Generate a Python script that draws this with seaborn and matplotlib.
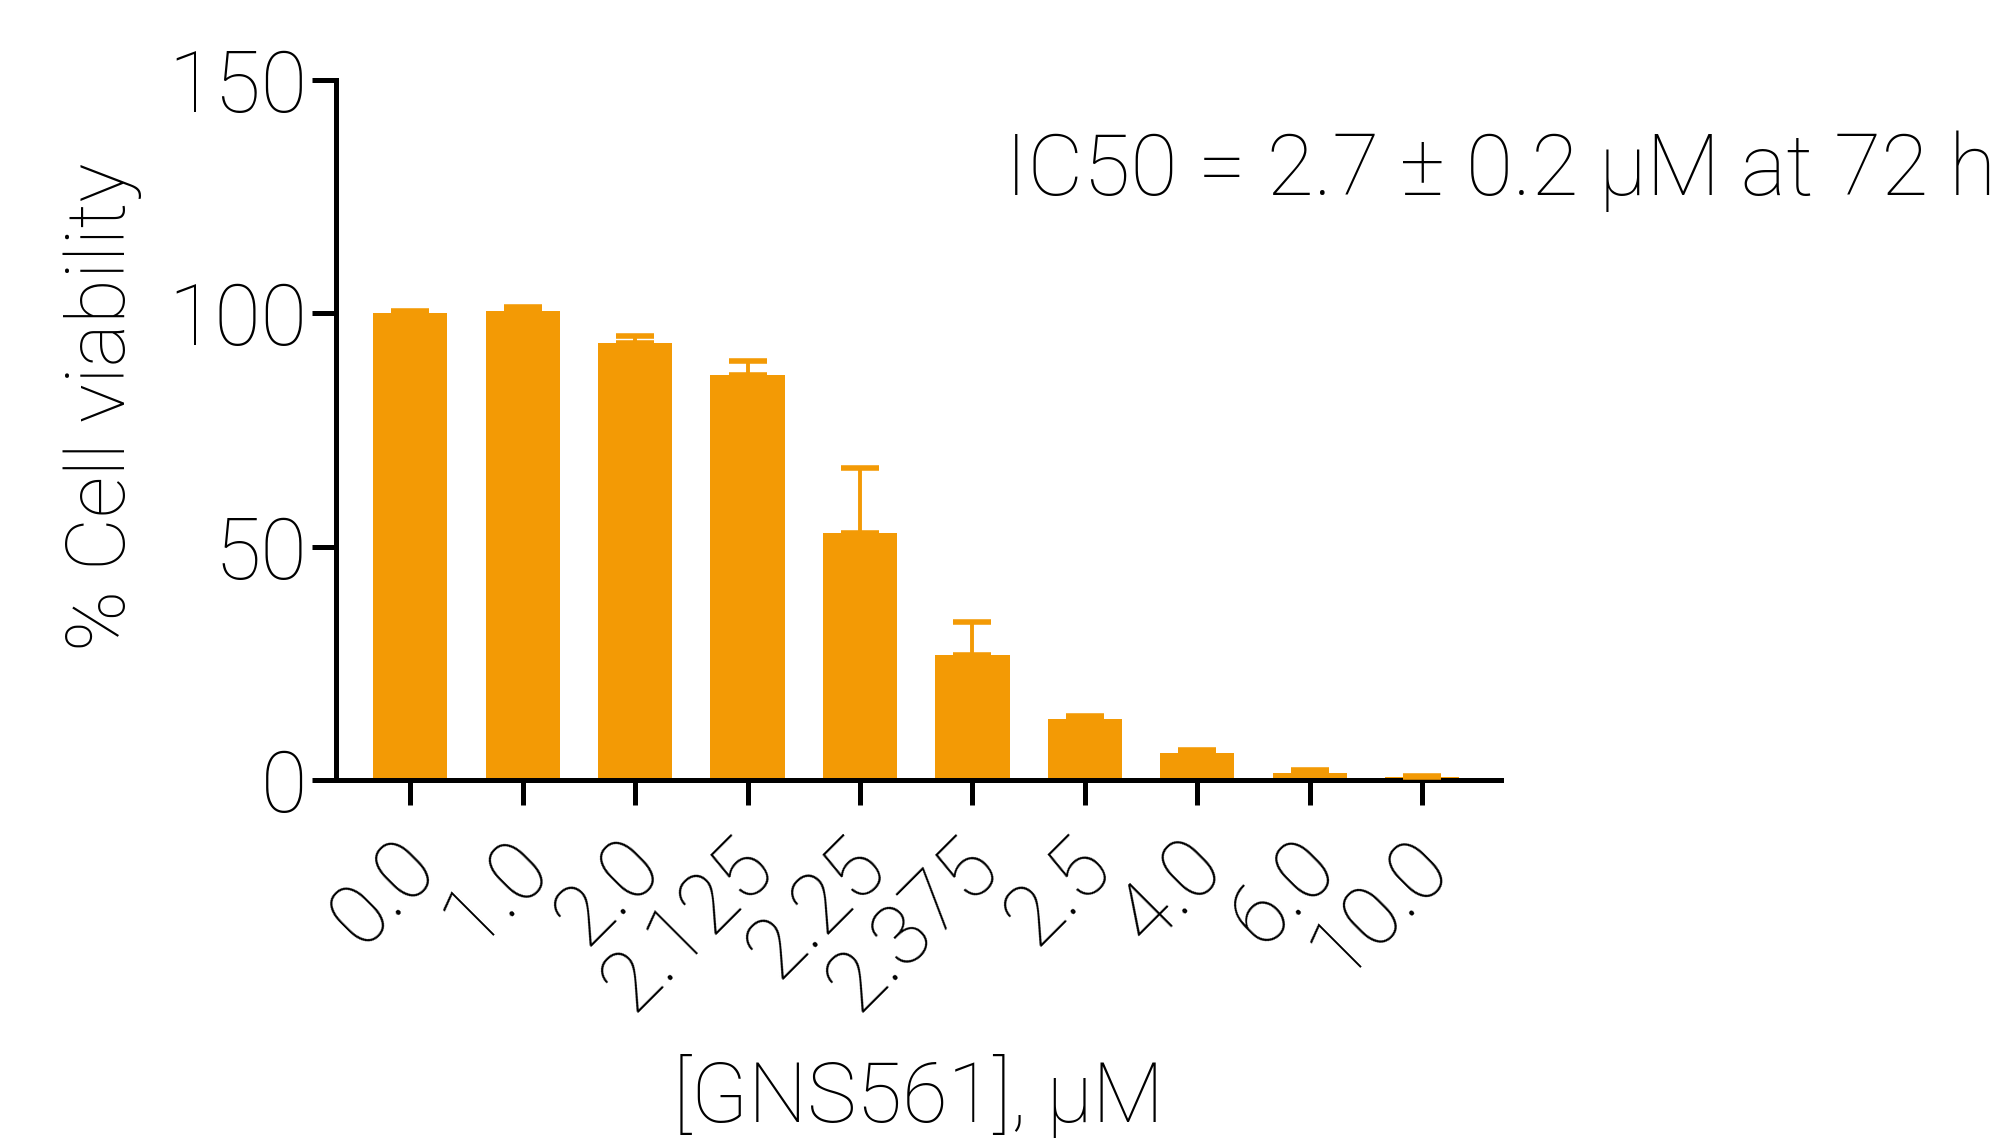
import numpy as np
import pandas as pd
import matplotlib
matplotlib.use("Agg")
import matplotlib.pyplot as plt
import matplotlib.transforms as mtransforms
import seaborn as sns

# GNS561 dose response, % viability at 72 h (mean + upper SD)
conc = ["0.0", "1.0", "2.0", "2.125", "2.25", "2.375", "2.5", "4.0", "6.0", "10.0"]
viability = [100.0, 100.4, 93.7, 86.8, 52.9, 26.8, 13.0, 5.7, 1.5, 0.6]
sd_upper = [0.6, 1.0, 1.5, 3.0, 14.0, 7.1, 0.8, 0.8, 0.6, 0.3]

orange = "#F39A05"

sns.set_theme(style="ticks")
plt.rcParams["font.family"] = ["Roboto", "DejaVu Sans"]
plt.rcParams["font.weight"] = "light"
plt.rcParams["axes.labelweight"] = "light"
plt.rcParams["text.color"] = "black"
plt.rcParams["axes.labelcolor"] = "black"

fig = plt.figure(figsize=(10.06, 5.69), dpi=200)
ax = fig.add_axes([0.167, 0.3146, 0.579, 0.6151])

df = pd.DataFrame({"conc": conc, "viability": viability})
sns.barplot(data=df, x="conc", y="viability", color=orange, saturation=1,
            width=0.66, edgecolor="none", ax=ax)

# upper-only error bars, like the prism style
ax.errorbar(np.arange(len(conc)), viability,
            yerr=[np.zeros(len(conc)), sd_upper],
            fmt="none", ecolor=orange, elinewidth=1.4,
            capsize=6.8, capthick=2.0, zorder=3)

ax.set_ylim(0, 150)
ax.set_xlim(-0.66, 9.7)
ax.set_yticks([0, 50, 100, 150])

sns.despine(ax=ax)
for s in ["left", "bottom"]:
    ax.spines[s].set_linewidth(1.8)
    ax.spines[s].set_color("black")

ax.tick_params(axis="y", length=8.5, width=1.8, labelsize=30.5, pad=2,
               colors="black")
ax.tick_params(axis="x", length=9, width=1.8, labelsize=30.5, pad=7,
               colors="black")

offset = mtransforms.ScaledTranslation(-16 / 200, 0, fig.dpi_scale_trans)
for lab in ax.get_xticklabels():
    lab.set_rotation(45)
    lab.set_rotation_mode("anchor")
    lab.set_ha("right")
    lab.set_va("top")
    lab.set_transform(lab.get_transform() + offset)

ax.set_xlabel("[GNS561], μM", fontsize=30)
ax.set_ylabel("% Cell viability", fontsize=29.5)
ax.xaxis.set_label_coords(0.5, -0.391)
ax.yaxis.set_label_coords(-0.2, 0.533)
ax.xaxis.label.set_va("top")
ax.yaxis.label.set_va("center")

fig.text(1005 / 2012, 1 - 195 / 1138, "IC50 = 2.7 ± 0.2 μM at 72 h",
         fontsize=31, ha="left", va="baseline")

fig.savefig("out.png", dpi=200, facecolor="white")
